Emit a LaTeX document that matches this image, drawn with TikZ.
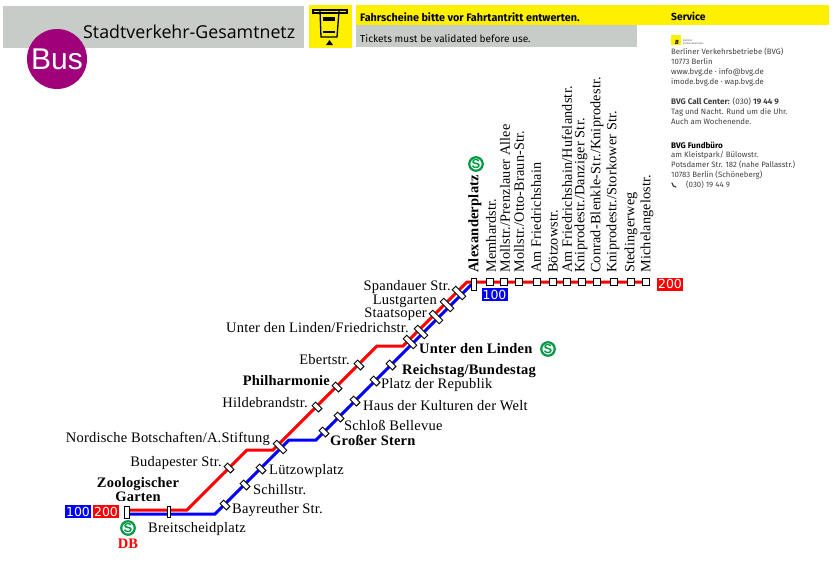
\documentclass[tikz,border=0pt]{standalone}
\usepackage{fontspec}
\setmainfont[LetterSpace=1.5]{Liberation Serif}
\setsansfont{Open Sans}
\newfontfamily\metafont{Fira Sans}
\newfontfamily\badgefont{DejaVu Sans}
\newfontfamily\busfont{Liberation Sans}
\usetikzlibrary{backgrounds}
\definecolor{hdrgray}{HTML}{C8CCC8}
\definecolor{hdryellow}{HTML}{FFF000}
\definecolor{buspurple}{HTML}{A0007A}
\definecolor{sgreen}{HTML}{009A44}
\definecolor{linered}{HTML}{FF0000}
\definecolor{lineblue}{HTML}{0000FF}
\tikzset{
 stopdot/.style={draw=black,fill=white,line width=.9pt,minimum width=6.5pt,minimum height=6.5pt,inner sep=0pt,outer sep=0pt},
 diagstop/.style={stopdot,rotate=45,minimum width=5pt,minimum height=9pt},
 dualstop/.style={stopdot,rotate=45,minimum width=5pt,minimum height=14pt},
 termstop/.style={stopdot,minimum width=5.5pt,minimum height=12pt},
 thinstop/.style={stopdot,minimum width=3.5pt,minimum height=11pt},
 redline/.style={draw=linered,line width=3pt,line join=miter},
 blueline/.style={draw=lineblue,line width=3pt,line join=miter},
 lab/.style={inner sep=0pt,anchor=east,font=\fontsize{14.5}{14}\selectfont},
 labr/.style={inner sep=0pt,anchor=west,font=\fontsize{14.5}{14}\selectfont},
 blab/.style={inner sep=0pt,font=\fontsize{14.5}{14}\selectfont\bfseries},
 vlab/.style={inner sep=0pt,anchor=west,rotate=90,font=\fontsize{14.2}{14}\selectfont},
 badge/.style={inner sep=0pt,minimum width=26pt,minimum height=13pt,text=white,font=\badgefont\fontsize{12.5}{13}\selectfont},
 sbahn/.style={circle,draw=sgreen,line width=2.2pt,fill=white,minimum size=13.5pt,inner sep=0pt,text=sgreen,font=\busfont\bfseries\fontsize{13}{13}\selectfont},
 svc/.style={inner sep=0pt,anchor=west,text=black!75,font=\metafont\fontsize{7.8}{9}\selectfont},
 svcb/.style={svc,text=black,font=\metafont\bfseries\fontsize{8.1}{9}\selectfont},
}
\begin{document}
\begin{tikzpicture}[x=1pt,y=-1pt]
\useasboundingbox (0,0) rectangle (838,565);
% header
\fill[hdrgray] (3,6) rectangle (304,48);
\fill[hdryellow] (309,5) rectangle (352,48);
\fill[hdryellow] (356,5) rectangle (829,25);
\fill[hdrgray] (356,25) rectangle (637,47);
\fill[buspurple] (57,59) circle (30);
\node[inner sep=0pt,text=white,font=\busfont\fontsize{30}{30}\selectfont] (bus) at (57,59) {Bus};
\node[inner sep=0pt,anchor=west,font=\sffamily\fontsize{17.8}{18}\selectfont] (title) at (83,32) {Stadtverkehr-Gesamtnetz};
% ticket icon
\draw[line width=1.3pt] (313,13) -- (313,10) -- (347,10) -- (347,13) -- cycle;
\draw[line width=1.3pt] (320,11) -- (321,37) -- (337,37) -- (339,11);
\draw[line width=1.3pt] (323,18) -- (335,18) (323,20) -- (335,20) (323,32) -- (335,32);
\fill (329.5,40) -- (333,45) -- (326,45) -- cycle;
\node[inner sep=0pt,anchor=west,font=\metafont\bfseries\fontsize{10.8}{10}\selectfont] (fahr) at (360,17) {Fahrscheine bitte vor Fahrtantritt entwerten.};
\node[inner sep=0pt,anchor=west,font=\metafont\fontsize{10.1}{10}\selectfont] (tick) at (360,39) {Tickets must be validated before use.};
\node[inner sep=0pt,anchor=west,font=\metafont\bfseries\fontsize{10.3}{10}\selectfont] (service) at (671,16) {Service};
% service column
\fill[hdryellow] (671,35) rectangle (681,45);
\node[inner sep=0pt,font=\metafont\bfseries\itshape\fontsize{6}{6}\selectfont] (bvgb) at (677,42) {B};
\node[inner sep=0pt,anchor=west,text=black!70,align=left,font=\metafont\fontsize{2.6}{3}\selectfont] (bvgt) at (683,42) {Berliner\\Verkehrsbetriebe};
\node[svc] at (671,52) {Berliner Verkehrsbetriebe (BVG)};
\node[svc] at (671,62) {10773 Berlin};
\node[svc] at (671,72) {www.bvg.de · info@bvg.de};
\node[svc] at (671,82) {imode.bvg.de · wap.bvg.de};
\node[svc,font=\metafont\fontsize{8.1}{9}\selectfont] at (671,102) {\textbf{BVG Call Center:} (030) \textbf{19 44 9}};
\node[svc] at (671,112) {Tag und Nacht. Rund um die Uhr.};
\node[svc] at (671,122) {Auch am Wochenende.};
\node[svcb] at (671,145) {BVG Fundbüro};
\node[svc] at (671,155) {am Kleistpark/ Bülowstr.};
\node[svc] at (671,165) {Potsdamer Str. 182 (nahe Pallasstr.)};
\node[svc] at (671,175) {10783 Berlin (Schöneberg)};
\node[svc] at (686,185) {(030) 19 44 9};
\draw[black!75,line width=1.2pt,line cap=round] (672,183) .. controls (672.5,186) and (674,187) .. (676,187);
% stops
\node[termstop] (zoo) at (127,512) {};
\node[thinstop] (breit) at (169,512) {};
\node[diagstop] (buda) at (229,468) {};
\node[diagstop] (bay) at (225,505) {};
\node[diagstop] (schill) at (245,485) {};
\node[diagstop] (luetz) at (261,469) {};
\node[dualstop] (nord) at (280,447) {};
\node[diagstop] (gross) at (324,432) {};
\node[diagstop] (hilde) at (317,407) {};
\node[diagstop] (phil) at (337,387) {};
\node[diagstop] (ebert) at (359,365) {};
\node[diagstop] (schloss) at (339,417) {};
\node[diagstop] (haus) at (355,401) {};
\node[diagstop] (platz) at (375,381) {};
\node[diagstop] (reich) at (391,365) {};
\node[dualstop] (linden) at (410,342) {};
\node[dualstop] (friedr) at (421,332) {};
\node[dualstop] (staats) at (436,317) {};
\node[dualstop] (lust) at (447,305) {};
\node[dualstop] (spand) at (459,293) {};
\node[termstop] (alex) at (474,284) {};
\foreach \n/\x in {mem/490,moll/504,otto/519,amf/537,boetz/553,hufe/567,danz/582,conr/597,stork/614,sted/631,mich/646}
 \node[stopdot] (\n) at (\x,282) {};
% lines
\begin{scope}[on background layer]
\coordinate (r1) at (127,510); \coordinate (r2) at (187,510); \coordinate (r3) at (247,450); \coordinate (r4) at (273,450);
\coordinate (r5) at (377,346); \coordinate (r6) at (403,346); \coordinate (r7) at (467,282);
\draw[redline] (r1) -- (r2) -- (r3) -- (r4) -- (r5) -- (r6) -- (r7) -- (mich.center);
\coordinate (b1) at (127,514); \coordinate (b2) at (215,514); \coordinate (b3) at (289,440); \coordinate (b4) at (316,440); \coordinate (b5) at (471,285);
\draw[blueline] (b1) -- (b2) -- (b3) -- (b4) -- (b5) -- (alex.center);
\end{scope}
% labels
\node[lab] at (270,439) {Nordische Botschaften/A.Stiftung};
\node[lab] at (222,463) {Budapester Str.};
\node[blab,align=center] at (138,490) {Zoologischer\\Garten};
\node[labr] at (148,529) {Breitscheidplatz};
\node[labr] at (232,510) {Bayreuther Str.};
\node[labr] at (253,490) {Schillstr.};
\node[labr] at (269,471) {Lützowplatz};
\node[blab,anchor=west] at (330,440) {Großer Stern};
\node[labr] at (344,425) {Schloß Bellevue};
\node[labr] at (363,406) {Haus der Kulturen der Welt};
\node[labr] at (381,385) {Platz der Republik};
\node[blab,anchor=west] at (402,371) {Reichstag/Bundestag};
\node[blab,anchor=west] at (419,349) {Unter den Linden};
\node[lab] at (350,360) {Ebertstr.};
\node[blab,anchor=east] at (330,381) {Philharmonie};
\node[lab] at (308,403) {Hildebrandstr.};
\node[lab] at (409,327.5) {Unter den Linden/Friedrichstr.};
\node[lab] at (427,314) {Staatsoper};
\node[lab] at (437,301) {Lustgarten};
\node[lab] at (451,287.5) {Spandauer Str.};
\node[blab,anchor=west,rotate=90] at (475,273) {Alexanderplatz};
\foreach \x/\t in {491/{Memhardstr.},505/{Mollstr./Prenzlauer Allee},519/{Mollstr./Otto-Braun-Str.},536/{Am Friedrichshain},553/{Bötzowstr.},567/{Am Friedrichshain/Hufelandstr.},581/{Kniprodestr./Danziger Str.},597/{Conrad-Blenkle-Str./Kniprodestr.},613/{Kniprodestr./Storkower Str.},631/{Stedingerweg},647/{Michelangelostr.}}
 \node[vlab] at (\x,273) {\t};
\node[badge,fill=lineblue] (b100a) at (494.5,294.5) {100};
\node[badge,fill=linered] (b200a) at (670,284) {200};
\node[badge,fill=lineblue] (b100b) at (78,511.5) {100};
\node[badge,fill=linered] (b200b) at (106,511.5) {200};
\node[sbahn] (s1) at (476,164) {S};
\node[sbahn] (s2) at (548,349) {S};
\node[sbahn] (s3) at (128,528) {S};
\node[blab,text=linered] (db) at (128,544) {DB};
\end{tikzpicture}
\end{document}
